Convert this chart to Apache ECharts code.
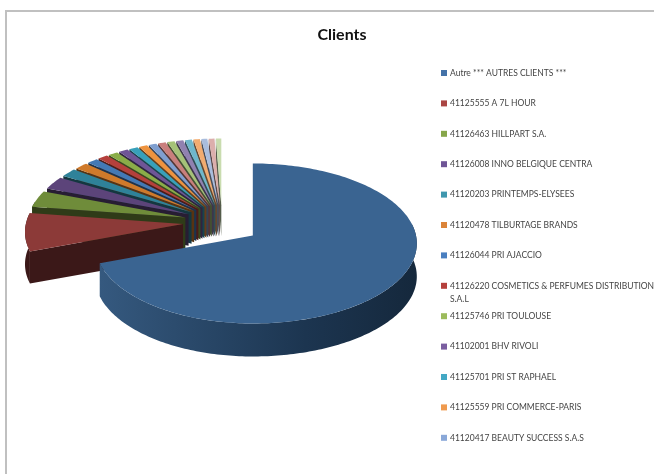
<!DOCTYPE html>
<html><head><meta charset="utf-8">
<style>html,body{margin:0;padding:0;background:#fff}#c{width:654px;height:474px}</style>
<script src="https://cdn.jsdelivr.net/npm/echarts@6/dist/echarts.min.js"></script>
</head><body><div id="c"></div>
<script>
const names = ["Autre *** AUTRES CLIENTS ***","41125555 A 7L HOUR","41126463 HILLPART S.A.","41126008 INNO BELGIQUE CENTRA","41120203 PRINTEMPS-ELYSEES","41120478 TILBURTAGE BRANDS","41126044 PRI AJACCIO","41126220 COSMETICS & PERFUMES DISTRIBUTION","41125746 PRI TOULOUSE","41102001 BHV RIVOLI","41125701 PRI ST RAPHAEL","41125559 PRI COMMERCE-PARIS","41120417 BEAUTY SUCCESS S.A.S","Client 14","Client 15","Client 16","Client 17","Client 18","Client 19","Client 20","Client 21"];
const values = [71.0,7.9,3.4,2.6,1.7,1.4,1.1,1.05,1.0,0.95,0.9,0.85,0.8,0.78,0.75,0.72,0.7,0.65,0.6,0.58,0.55];
const topColors = ["#3a6491","#8c3a38","#6f8c3a","#5c447a","#2f8299","#cf7a2b","#4379b5","#b5403c","#8aad48","#6f5596","#38a0ba","#ee933e","#7f9fd0","#c97f7d","#a5c278","#9181b0","#6fb8cc","#f2ac70","#a9bddd","#dcaeac","#c9dcaf"];
const legendColors = ["#4472a8","#aa4543","#86a64a","#6f5596","#3f97ae","#db8439","#4a7fc0","#b5403c","#9cbb5c","#7a5ea0","#43a8c4","#ef9a4e","#8aa8d8"];
const wrapLine = "S.A.L";
const title = "Clients";

const C = {x:222,y:224}, R = {l:158,r:164,y:80}, lift = 8, depth = 33, burst = 39, burstY = 0.48, persp = 0.0022;
const total = values.reduce((a,b)=>a+b,0);
let run = 0;
const arcs = values.map(v=>{const a=run/total*Math.PI*2; run+=v; return [a,run/total*Math.PI*2];});

function shade(hex,k){
  const n=parseInt(hex.slice(1),16);
  return 'rgb('+[n>>16,(n>>8)&255,n&255].map(c=>Math.round(c*k)).join(',')+')';
}
function pt(apex,t,s){const a=Math.sin(t);return [apex[0]+(a<0?R.l:R.r)*a, apex[1]+lift-R.y*s*Math.cos(t)];}
function arcPts(apex,a,b,s){const n=Math.max(2,Math.ceil((b-a)/0.02)),o=[];for(let i=0;i<=n;i++)o.push(pt(apex,a+(b-a)*i/n,s));return o;}

function render(params,api){
  const i=params.seriesIndex, [a0,b0]=arcs[i];
  const mid=(a0+b0)/2;
  const apex=[C.x+burst*Math.sin(mid), C.y-burst*burstY*Math.cos(mid)];
  const s=Math.min(1,1-(C.y+11-apex[1])*persp), d=depth*s;
  const down=p=>[p[0],p[1]+d];
  const top=topColors[i], dark=shade(top,0.42), kids=[];
  if(i>0){
    const p=pt(apex,a0,s);
    kids.push({type:'polygon',shape:{points:[apex,p,down(p),down(apex)]},style:{fill:dark}});
  }
  const wa=Math.max(a0,Math.PI*0.42), wb=Math.min(b0,Math.PI*1.6);
  if(wb>wa){
    const rim=arcPts(apex,wa,wb,s);
    const fill = i===0
      ? {type:'linear',x:1,y:0,x2:0,y2:0,colorStops:[{offset:0,color:'#15283c'},{offset:0.35,color:'#1c3550'},{offset:1,color:'#35597f'}]}
      : dark;
    kids.push({type:'polygon',shape:{points:rim.concat(rim.map(down).reverse())},style:{fill}});
  }
  kids.push({type:'polygon',shape:{points:[apex].concat(arcPts(apex,a0,b0,s))},style:{fill:top}});
  return {type:'group',children:kids};
}

const series = names.map((n,i)=>({
  name:n,type:'custom',coordinateSystem:'none',
  z:2+(names.length-i), silent:true,
  itemStyle:{color:i<legendColors.length?legendColors[i]:topColors[i]},
  renderItem:render,data:[[values[i]]]
}));

const chart=echarts.init(document.getElementById('c'),null,{renderer:'canvas'});
chart.setOption({
  animation:false,backgroundColor:'#fff',
  title:{text:title,left:337,top:22,textAlign:'center',textStyle:{fontFamily:'Lato',fontSize:16,fontWeight:'bold',color:'#111'}},
  legend:{orient:'vertical',left:441,top:68,itemWidth:6,itemHeight:6,itemGap:20.4,icon:'rect',padding:0,
    selectedMode:false,data:names.slice(0,13),
    textStyle:{fontFamily:'Lato',fontSize:8.5,color:'#444',lineHeight:10,padding:[0,0,0,-2]}},
  graphic:[
    {type:'line',silent:true,shape:{x1:6,y1:11,x2:654,y2:11},style:{stroke:'#c0c0c0',lineWidth:2}},
    {type:'line',silent:true,shape:{x1:6,y1:10,x2:6,y2:474},style:{stroke:'#c0c0c0',lineWidth:2}},
    {type:'text',silent:true,left:450,top:295,style:{text:wrapLine,fontFamily:'Lato',fontSize:8.5,fill:'#444'}}
  ],
  series
});
</script></body></html>
